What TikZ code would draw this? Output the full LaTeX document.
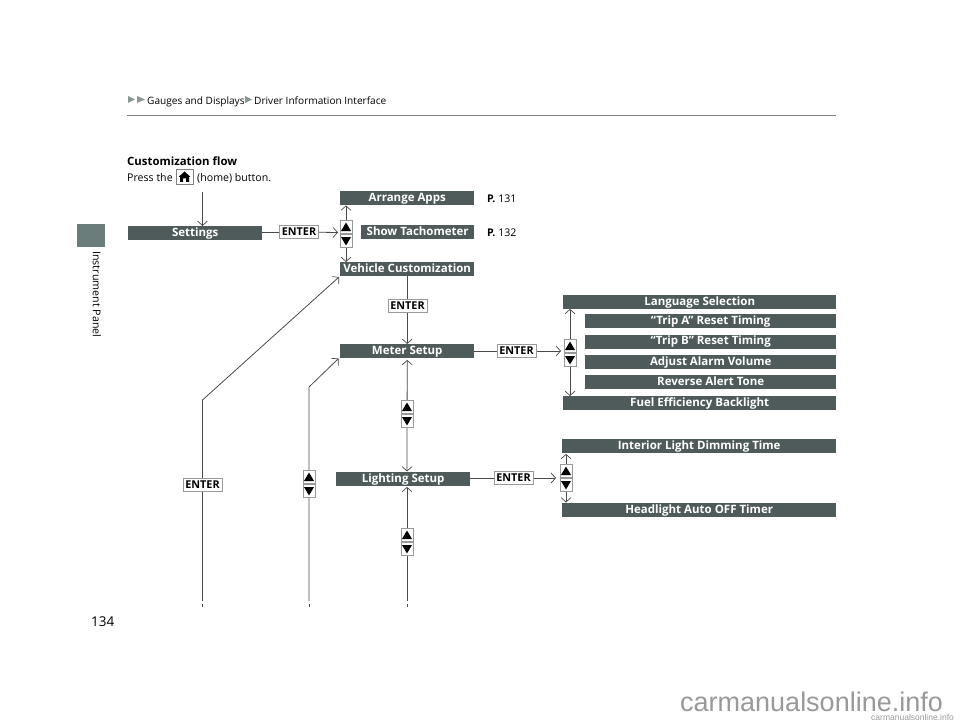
\documentclass[tikz,border=0pt]{standalone}
\usepackage{fontspec}
\setmainfont{Open Sans}
\newfontfamily\wmfont{Liberation Sans}
\usetikzlibrary{arrows.meta,backgrounds,calc}
\definecolor{boxc}{HTML}{4F5B5A}
\definecolor{linec}{HTML}{4A4A4A}
\definecolor{sidec}{HTML}{6B7D7B}
\tikzset{x=1pt,y=-1pt,
 bar/.style={fill=boxc,text=white,inner sep=0pt,text height=8.5pt,text depth=2.2pt,font=\fontsize{11.5}{12}\selectfont\bfseries,anchor=north west},
 enterkey/.style={draw=gray!80,line width=.8pt,fill=white,inner sep=0pt,minimum width=39pt,minimum height=13pt,text height=7.8pt,text depth=0pt,font=\fontsize{10.8}{11}\selectfont\bfseries},
 arrowkey/.style={draw=gray!80,line width=1pt,fill=white,inner sep=0pt,minimum width=12pt,minimum height=12.5pt},
 conn/.style={draw=linec,line width=.8pt},
 tip/.style={conn,-{Straight Barb[length=4.5pt,width=10pt,line width=.7pt]}},
 both/.style={conn,{Straight Barb[length=4.5pt,width=10pt,line width=.7pt]}-{Straight Barb[length=4.5pt,width=10pt,line width=.7pt]}},
 small/.style={inner sep=0pt,text height=8pt,text depth=2pt,font=\fontsize{10.6}{12}\selectfont,anchor=west}}
\newcommand{\barnode}[6]{\node[bar,minimum width=#4pt,minimum height=#5pt] (#1) at (#2,#3) {#6};}
\newcommand{\updown}[4]{% name, x, ytop of up key, ytop of down key
 \node[arrowkey] (#1u) at (#2,#3+6) {};
 \node[arrowkey] (#1d) at (#2,#4+6) {};
 \fill[black] ($(#1u.center)+(-5,4)$) -- ++(10,0) -- ++(-5,-8.5) -- cycle;
 \fill[black] ($(#1d.center)+(-5,-4)$) -- ++(10,0) -- ++(-5,8.5) -- cycle;}
\begin{document}
\begin{tikzpicture}
\useasboundingbox (0,0) rectangle (960,722);
% header
\fill[sidec!80] (128,96) -- (135,99.5) -- (128,103) -- cycle;
\fill[sidec!80] (137,96) -- (145,99.5) -- (137,103) -- cycle;
\node[small,font=\fontsize{10.1}{12}\selectfont] (h1) at (147,101.5) {Gauges and Displays};
\fill[sidec!80] (245,96) -- (252,99.5) -- (245,103) -- cycle;
\node[small,font=\fontsize{10.1}{12}\selectfont] (h2) at (254,101.5) {Driver Information Interface};
\draw[gray,line width=.8pt] (127,115) -- (836,115);
% side tab
\fill[sidec] (77,224) rectangle (105,247);
\node[inner sep=0pt,rotate=-90,font=\fontsize{10.7}{12}\selectfont,anchor=west] (side) at (97,251) {Instrument Panel};
% title
\node[small,font=\fontsize{11.4}{13}\selectfont\bfseries] (title) at (127,163) {Customization flow};
\node[small] (press) at (127,179) {Press the};
\node[draw=gray,line width=.8pt,minimum width=17pt,minimum height=15pt,inner sep=0pt] (home) at (184.5,177) {};
\fill[black] (178.5,177) -- (184.5,171.5) -- (190.5,177) -- (189,177) -- (189,182) -- (186,182) -- (186,178.5) -- (183,178.5) -- (183,182) -- (180,182) -- (180,177) -- cycle;
\node[small] (pressb) at (197,179) {(home) button.};
% boxes
\barnode{arrange}{340}{191}{134}{14}{Arrange Apps}
\barnode{tacho}{361}{225}{113}{14}{Show Tachometer}
\barnode{settings}{128}{226}{134}{14}{Settings}
\barnode{vehicle}{340}{262}{134}{14}{Vehicle Customization}
\barnode{meter}{340}{344}{134}{14}{Meter Setup}
\barnode{lighting}{336}{472}{134}{14}{Lighting Setup}
\barnode{lang}{563}{295}{273}{13.5}{Language Selection}
\barnode{tripa}{585}{314}{251}{14}{“Trip A” Reset Timing}
\barnode{tripb}{585}{334.5}{251}{14}{“Trip B” Reset Timing}
\barnode{alarm}{585}{355}{251}{13.5}{Adjust Alarm Volume}
\barnode{reverse}{585}{375}{251}{13.5}{Reverse Alert Tone}
\barnode{fuel}{563}{396}{273}{14}{Fuel Efficiency Backlight}
\barnode{interior}{562}{439}{274}{14}{Interior Light Dimming Time}
\barnode{headlight}{562}{503}{274}{14}{Headlight Auto OFF Timer}
% page refs
\node[small] (p131) at (487,199) {\textbf{P.}\ 131};
\node[small] (p132) at (487,233) {\textbf{P.}\ 132};
% keys
\node[enterkey] (e1) at (299,232) {ENTER};
\node[enterkey] (e2) at (407.5,306) {ENTER};
\node[enterkey] (e3) at (516.5,351) {ENTER};
\node[enterkey] (e4) at (513.5,478) {ENTER};
\node[enterkey] (e5) at (202.5,484.5) {ENTER};
\updown{a}{346}{221}{235}
\updown{b}{570}{340}{354}
\updown{c}{407}{401}{415}
\updown{d}{566}{465}{479}
\updown{f}{309}{471}{485}
\updown{g}{407}{529}{543}
% free ends
\coordinate (homeS) at (202.5,192);
\coordinate (l1) at (202.5,601);
\coordinate (l1t) at (202.5,604);
\coordinate (l1b) at (202.5,607);
\coordinate (l1k) at (202.5,400);
\coordinate (l1e) at (339,277);
\coordinate (l2) at (309,601);
\coordinate (l2t) at (309,604);
\coordinate (l2b) at (309,607);
\coordinate (l2k) at (309,387);
\coordinate (l2e) at (338.5,358.5);
\coordinate (l3) at (407,601);
\coordinate (l3t) at (407,604);
\coordinate (l3b) at (407,607);
\coordinate (e1tip) at (338,232.5);
\coordinate (e3tip) at (561,351);
\coordinate (e4tip) at (556,478);
\begin{pgfonlayer}{background}
\draw[tip] (homeS) -- (homeS |- settings.north);
\draw[conn] (settings.east |- e1) -- (e1);
\draw[tip] (e1) -- (e1tip);
\draw[both] (au |- arrange.south) -- (ad |- vehicle.north);
\draw[tip] (vehicle.south) -- (meter.north);
\draw[both] (meter.south) ++(0,1.5) -- ($(lighting.north -| cu)+(0,-.5)$);
\draw[tip] (l3) -- ($(lighting.south -| gu)+(0,.5)$);
\draw[conn] (l3t) -- (l3b);
\draw[conn] (meter.east |- e3) -- (e3);
\draw[tip] (e3) -- (e3tip);
\draw[both] (bu |- lang.south) -- (bd |- fuel.north);
\draw[conn] (lighting.east |- e4) -- (e4);
\draw[tip] (e4) -- (e4tip);
\draw[both] ($(du |- interior.south)+(0,.5)$) -- ($(dd |- headlight.north)+(0,-.5)$);
\draw[tip] (l1) -- (l1k) -- (l1e);
\draw[conn] (l1t) -- (l1b);
\draw[tip] (l2) -- (l2k) -- (l2e);
\draw[conn] (l2t) -- (l2b);
\end{pgfonlayer}
% footer
\node[inner sep=0pt,anchor=west,font=\fontsize{13.5}{15}\selectfont] (page) at (91,622) {134};
\node[inner sep=0pt,anchor=base west,text=gray!80,font=\wmfont\fontsize{27}{28}\selectfont] (wm) at (680,711.5) {carmanualsonline.info};
\node[inner sep=0pt,anchor=base west,text=gray!80,font=\wmfont\fontsize{8.5}{9}\selectfont] (wm2) at (871,720) {carmanualsonline.info};
\end{tikzpicture}
\end{document}
